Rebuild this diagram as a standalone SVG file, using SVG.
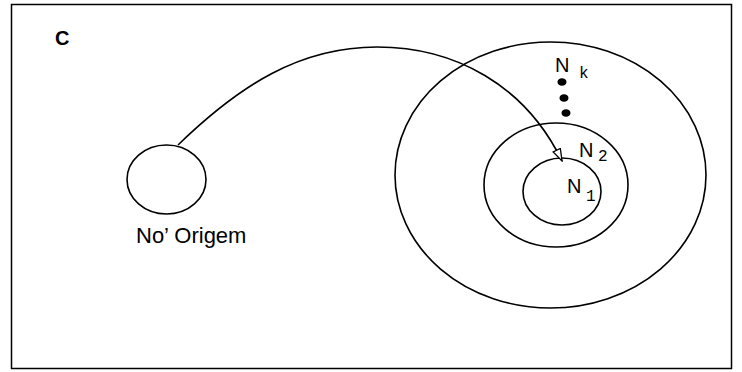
<svg xmlns="http://www.w3.org/2000/svg" width="742" height="372" viewBox="0 0 742 372">
<style>
.ln{fill:none;stroke:#000;stroke-width:1.6}
.t{font-family:"Liberation Sans",Arial,sans-serif;fill:#000}
.n{font-family:"Liberation Sans",Arial,sans-serif;fill:#000;font-size:20px}
.s{font-family:"Liberation Mono","Courier New",monospace;fill:#000;font-size:16px}
</style>
<defs>
<marker id="ah" markerWidth="14" markerHeight="10" refX="13" refY="4.5" orient="auto" markerUnits="userSpaceOnUse">
<path d="M1,0.5 L13,4.5 L1,8.5 Z" fill="#fff" stroke="#000" stroke-width="1.3"/>
</marker>
</defs>
<rect x="11.5" y="4.5" width="720" height="364" fill="#fff" stroke="#000" stroke-width="1.5"/>
<text class="t" x="55" y="45" font-size="20" font-weight="bold">C</text>
<g id="origem">
<ellipse class="ln" cx="166.5" cy="179.5" rx="39.5" ry="34.5"/>
<text class="t" x="136" y="243" font-size="22">No’ Origem</text>
</g>
<g id="nk">
<ellipse class="ln" cx="550.5" cy="175" rx="155.5" ry="133"/>
<text class="n" x="555" y="72">N</text>
<text class="s" x="579" y="78">k</text>
<ellipse cx="562" cy="82" rx="4.5" ry="3.8"/>
<ellipse cx="564" cy="98" rx="4.5" ry="3.8"/>
<ellipse cx="566" cy="113" rx="4.5" ry="3.8"/>
</g>
<g id="n2">
<ellipse class="ln" cx="556" cy="185" rx="72" ry="62"/>
<text class="n" x="579" y="157">N</text>
<text class="s" x="598" y="161">2</text>
</g>
<g id="n1">
<ellipse class="ln" cx="562" cy="191.5" rx="39" ry="33.5"/>
<text class="n" x="567" y="193">N</text>
<text class="s" x="586" y="201">1</text>
</g>
<g id="connectors">
<path class="ln" d="M178,145 C240,85 300,47 377,47 C455,47 525,85 562,161" marker-end="url(#ah)"/>
</g>
</svg>
